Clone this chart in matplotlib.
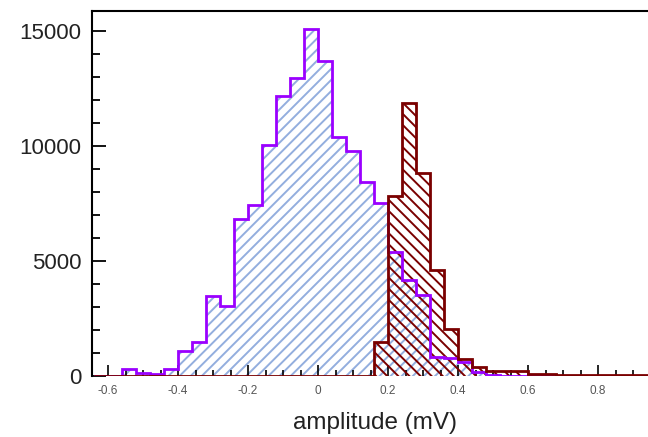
#!/usr/bin/env python3
"""Amplitude histograms: noise (blue hatch) vs signal (dark red hatch), ROOT-like style."""

import numpy as np
import matplotlib
matplotlib.use("Agg")
import matplotlib.pyplot as plt
from matplotlib.ticker import MultipleLocator

# bin edges in mV (41 bins of 0.04 mV)
BIN_LO = -0.64
BIN_HI = 1.0
N_BINS = 41

# counts per bin
NOISE_COUNTS = [0, 0, 270, 120, 50, 270, 1080, 1450, 3480, 3040,
                6810, 7430, 10050, 12190, 12980, 15090, 13710, 10380, 9760, 8420,
                7530, 5400, 4160, 3510, 820, 780, 600, 170, 30, 0,
                0, 0, 0, 0, 0, 0, 0, 0, 0, 0, 0]
SIGNAL_COUNTS = [0, 0, 0, 0, 0, 0, 0, 0, 0, 0,
                 0, 0, 0, 0, 0, 0, 0, 0, 0, 0,
                 1450, 7840, 11870, 8840, 4600, 2010, 700, 390, 210, 190,
                 180, 60, 50, 40, 40, 30, 30, 20, 20, 20, 10]

X_TICKS = [-0.6, -0.4, -0.2, 0, 0.2, 0.4, 0.6, 0.8]
X_LABEL = "amplitude (mV)"

PURPLE = "#9a00ff"
BLUE_HATCH = "#93aede"
DARK_RED = "#7a0000"

plt.rcParams["font.family"] = ["Liberation Sans", "DejaVu Sans"]
plt.rcParams["hatch.linewidth"] = 1.4

edges = np.linspace(BIN_LO, BIN_HI, N_BINS + 1)

fig = plt.figure(figsize=(6.48, 4.37), dpi=100)
ax = fig.add_axes([92.3 / 648, 61.5 / 437, 575.8 / 648, 365 / 437])

# hatched fills (hatch colour comes from edgecolor)
ax.stairs(NOISE_COUNTS, edges, fill=True, facecolor="white",
          edgecolor=BLUE_HATCH, hatch="///", linewidth=0, zorder=1)
ax.stairs(SIGNAL_COUNTS, edges, fill=True, facecolor="none",
          edgecolor=DARK_RED, hatch="\\\\\\", linewidth=0, zorder=2)

# outlines
ax.stairs(NOISE_COUNTS, edges, color=PURPLE, linewidth=2.0, zorder=3)
ax.stairs(SIGNAL_COUNTS, edges, color=DARK_RED, linewidth=2.0, zorder=4)

ax.set_xlim(-0.645, 1.0)
ax.set_ylim(0, 15900)

ax.set_xticks(X_TICKS)
ax.set_xticklabels([f"{v:g}" for v in X_TICKS])
ax.xaxis.set_minor_locator(MultipleLocator(0.05))
ax.yaxis.set_major_locator(MultipleLocator(5000))
ax.yaxis.set_minor_locator(MultipleLocator(1000))

ax.tick_params(axis="both", which="both", direction="in", color="black",
               top=False, right=False)
ax.tick_params(axis="x", which="major", length=8, width=1.2,
               labelsize=8.5, labelcolor="#555555", pad=7)
ax.tick_params(axis="x", which="minor", length=4, width=1.2)
ax.tick_params(axis="y", which="major", length=10, width=1.3,
               labelsize=16, labelcolor="#222222", pad=8)
ax.tick_params(axis="y", which="minor", length=6, width=1.3)

for side in ("left", "top"):
    ax.spines[side].set_linewidth(1.5)
ax.spines["right"].set_visible(False)
ax.spines["bottom"].set_visible(False)

ax.set_xlabel(X_LABEL, fontsize=17.5, color="#222222")
ax.xaxis.set_label_coords((375 - 92.3) / 575.8, -0.1)

fig.savefig("out.png", dpi=100)
